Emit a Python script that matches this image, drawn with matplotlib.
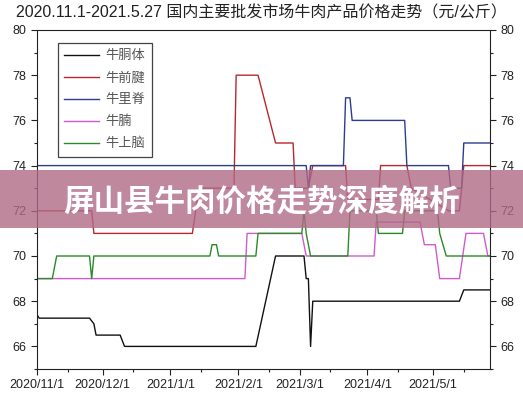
import matplotlib
matplotlib.use("Agg")
import matplotlib.pyplot as plt
import matplotlib.dates as mdates
import pandas as pd

plt.rcParams['font.family'] = ['Liberation Sans', 'Noto Sans CJK SC', 'DejaVu Sans']

# ---------------------------------------------------------
# data: (date, price) breakpoints
# ---------------------------------------------------------
carcass_dates = ["2020-11-01", "2020-11-02", "2020-11-25", "2020-11-27", "2020-11-28",
                 "2020-12-09", "2020-12-11", "2021-02-09", "2021-02-18", "2021-03-03",
                 "2021-03-04", "2021-03-05", "2021-03-06", "2021-03-07", "2021-05-13",
                 "2021-05-15", "2021-05-27"]
carcass_vals = [67.4, 67.25, 67.25, 67.0, 66.5, 66.5, 66.0, 66.0, 70.0, 70.0,
                69.0, 69.0, 66.0, 68.0, 68.0, 68.5, 68.5]

shank_dates = ["2020-11-01", "2020-11-26", "2020-11-27", "2021-01-11", "2021-01-14",
               "2021-01-30", "2021-01-31", "2021-02-10", "2021-02-18", "2021-02-26",
               "2021-02-27", "2021-03-05", "2021-03-07", "2021-03-22", "2021-03-23",
               "2021-04-06", "2021-04-07", "2021-04-19", "2021-04-21", "2021-05-08",
               "2021-05-13", "2021-05-15", "2021-05-27"]
shank_vals = [72, 72, 71, 71, 73, 73, 78, 78, 75, 75,
              73, 73, 74, 74, 72.5, 72.5, 74, 74, 73, 72,
              72, 74, 74]

loin_dates = ["2020-11-01", "2021-03-04", "2021-03-05", "2021-03-06", "2021-03-21",
              "2021-03-22", "2021-03-24", "2021-03-25", "2021-04-18", "2021-04-19",
              "2021-05-08", "2021-05-09", "2021-05-14", "2021-05-15", "2021-05-27"]
loin_vals = [74, 74, 73, 74, 74, 77, 77, 76, 76, 74,
             74, 73, 73, 75, 75]

brisket_dates = ["2020-11-01", "2021-02-04", "2021-02-05", "2021-03-02", "2021-03-04",
                 "2021-04-04", "2021-04-05", "2021-04-25", "2021-04-27", "2021-05-02",
                 "2021-05-04", "2021-05-13", "2021-05-16", "2021-05-24", "2021-05-26",
                 "2021-05-27"]
brisket_vals = [69, 69, 71, 71, 70, 70, 71.5, 71.5, 70.5, 70.5,
                69, 69, 71, 71, 70, 70]

chuck_dates = ["2020-11-01", "2020-11-08", "2020-11-10", "2020-11-25", "2020-11-26",
               "2020-11-27", "2021-01-19", "2021-01-20", "2021-01-22", "2021-01-23",
               "2021-02-09", "2021-02-10", "2021-03-02", "2021-03-03", "2021-03-04",
               "2021-03-06", "2021-03-23", "2021-03-24", "2021-04-05", "2021-04-06",
               "2021-04-17", "2021-04-18", "2021-05-03", "2021-05-04", "2021-05-07",
               "2021-05-27"]
chuck_vals = [69, 69, 70, 70, 69, 70, 70, 70.5, 70.5, 70,
              70, 71, 71, 72, 71, 70, 70, 72, 72, 71,
              71, 72, 72, 71, 70, 70]

names = ["牛胴体", "牛前腱", "牛里脊", "牛腩", "牛上脑"]
colors = ["#111111", "#b8282e", "#2c3c94", "#d05ad0", "#2a8a2a"]
series = [(carcass_dates, carcass_vals), (shank_dates, shank_vals),
          (loin_dates, loin_vals), (brisket_dates, brisket_vals),
          (chuck_dates, chuck_vals)]

# ---------------------------------------------------------
# plot
# ---------------------------------------------------------
fig = plt.figure(figsize=(5.23, 4.0), dpi=100)
ax = fig.add_axes([0.0707, 0.0775, 0.8663, 0.8475])

for (d, v), name, c in zip(series, names, colors):
    ax.plot(pd.to_datetime(d), v, color=c, linewidth=1.0, label=name)

ax.set_xlim(pd.Timestamp("2020-11-01"), pd.Timestamp("2021-05-27"))
ax.set_ylim(65, 80)
ax.set_yticks(range(66, 81, 2))
ax.set_yticks(range(65, 81), minor=True)
ax.xaxis.set_major_locator(mdates.MonthLocator(bymonthday=1))
ax.xaxis.set_minor_locator(mdates.MonthLocator(bymonthday=15))
ax.xaxis.set_major_formatter(
    plt.FuncFormatter(lambda x, p: "{0.year}/{0.month}/{0.day}".format(mdates.num2date(x))))

ax.tick_params(which="both", direction="out", labelsize=9, width=0.8, colors="#222222")
ax.tick_params(which="major", length=4)
ax.tick_params(which="minor", length=2.5)
ax.tick_params(axis="y", which="both", left=True, right=True, labelleft=True, labelright=True)
for s in ax.spines.values():
    s.set_linewidth(0.8)
    s.set_color("#222222")

leg = ax.legend(loc="upper left", bbox_to_anchor=(0.046, 0.962), borderaxespad=0,
                fancybox=False, edgecolor="#444444", framealpha=1,
                handlelength=2.6, labelspacing=0.68, handletextpad=0.5, borderpad=0.5,
                prop={"family": ["Noto Sans CJK SC"], "size": 9.5})
leg.get_frame().set_linewidth(0.9)
for t in leg.get_texts():
    t.set_color("#555555")

fig.text(0.5, 0.968, "2020.11.1-2021.5.27 国内主要批发市场牛肉产品价格走势（元/公斤）",
         ha="center", va="center", fontsize=11.5, color="#222222")

# overlay banner
fig.patches.append(plt.Rectangle((0, 0.43), 1, 0.145, transform=fig.transFigure,
                                 facecolor="#b06a85", alpha=0.8, zorder=5))
fig.text(0.5, 0.496, "屏山县牛肉价格走势深度解析", ha="center", va="center",
         fontsize=22, fontweight="bold", color="white",
         family=["Noto Sans CJK SC"], zorder=6)

fig.savefig("out.png", dpi=100)
